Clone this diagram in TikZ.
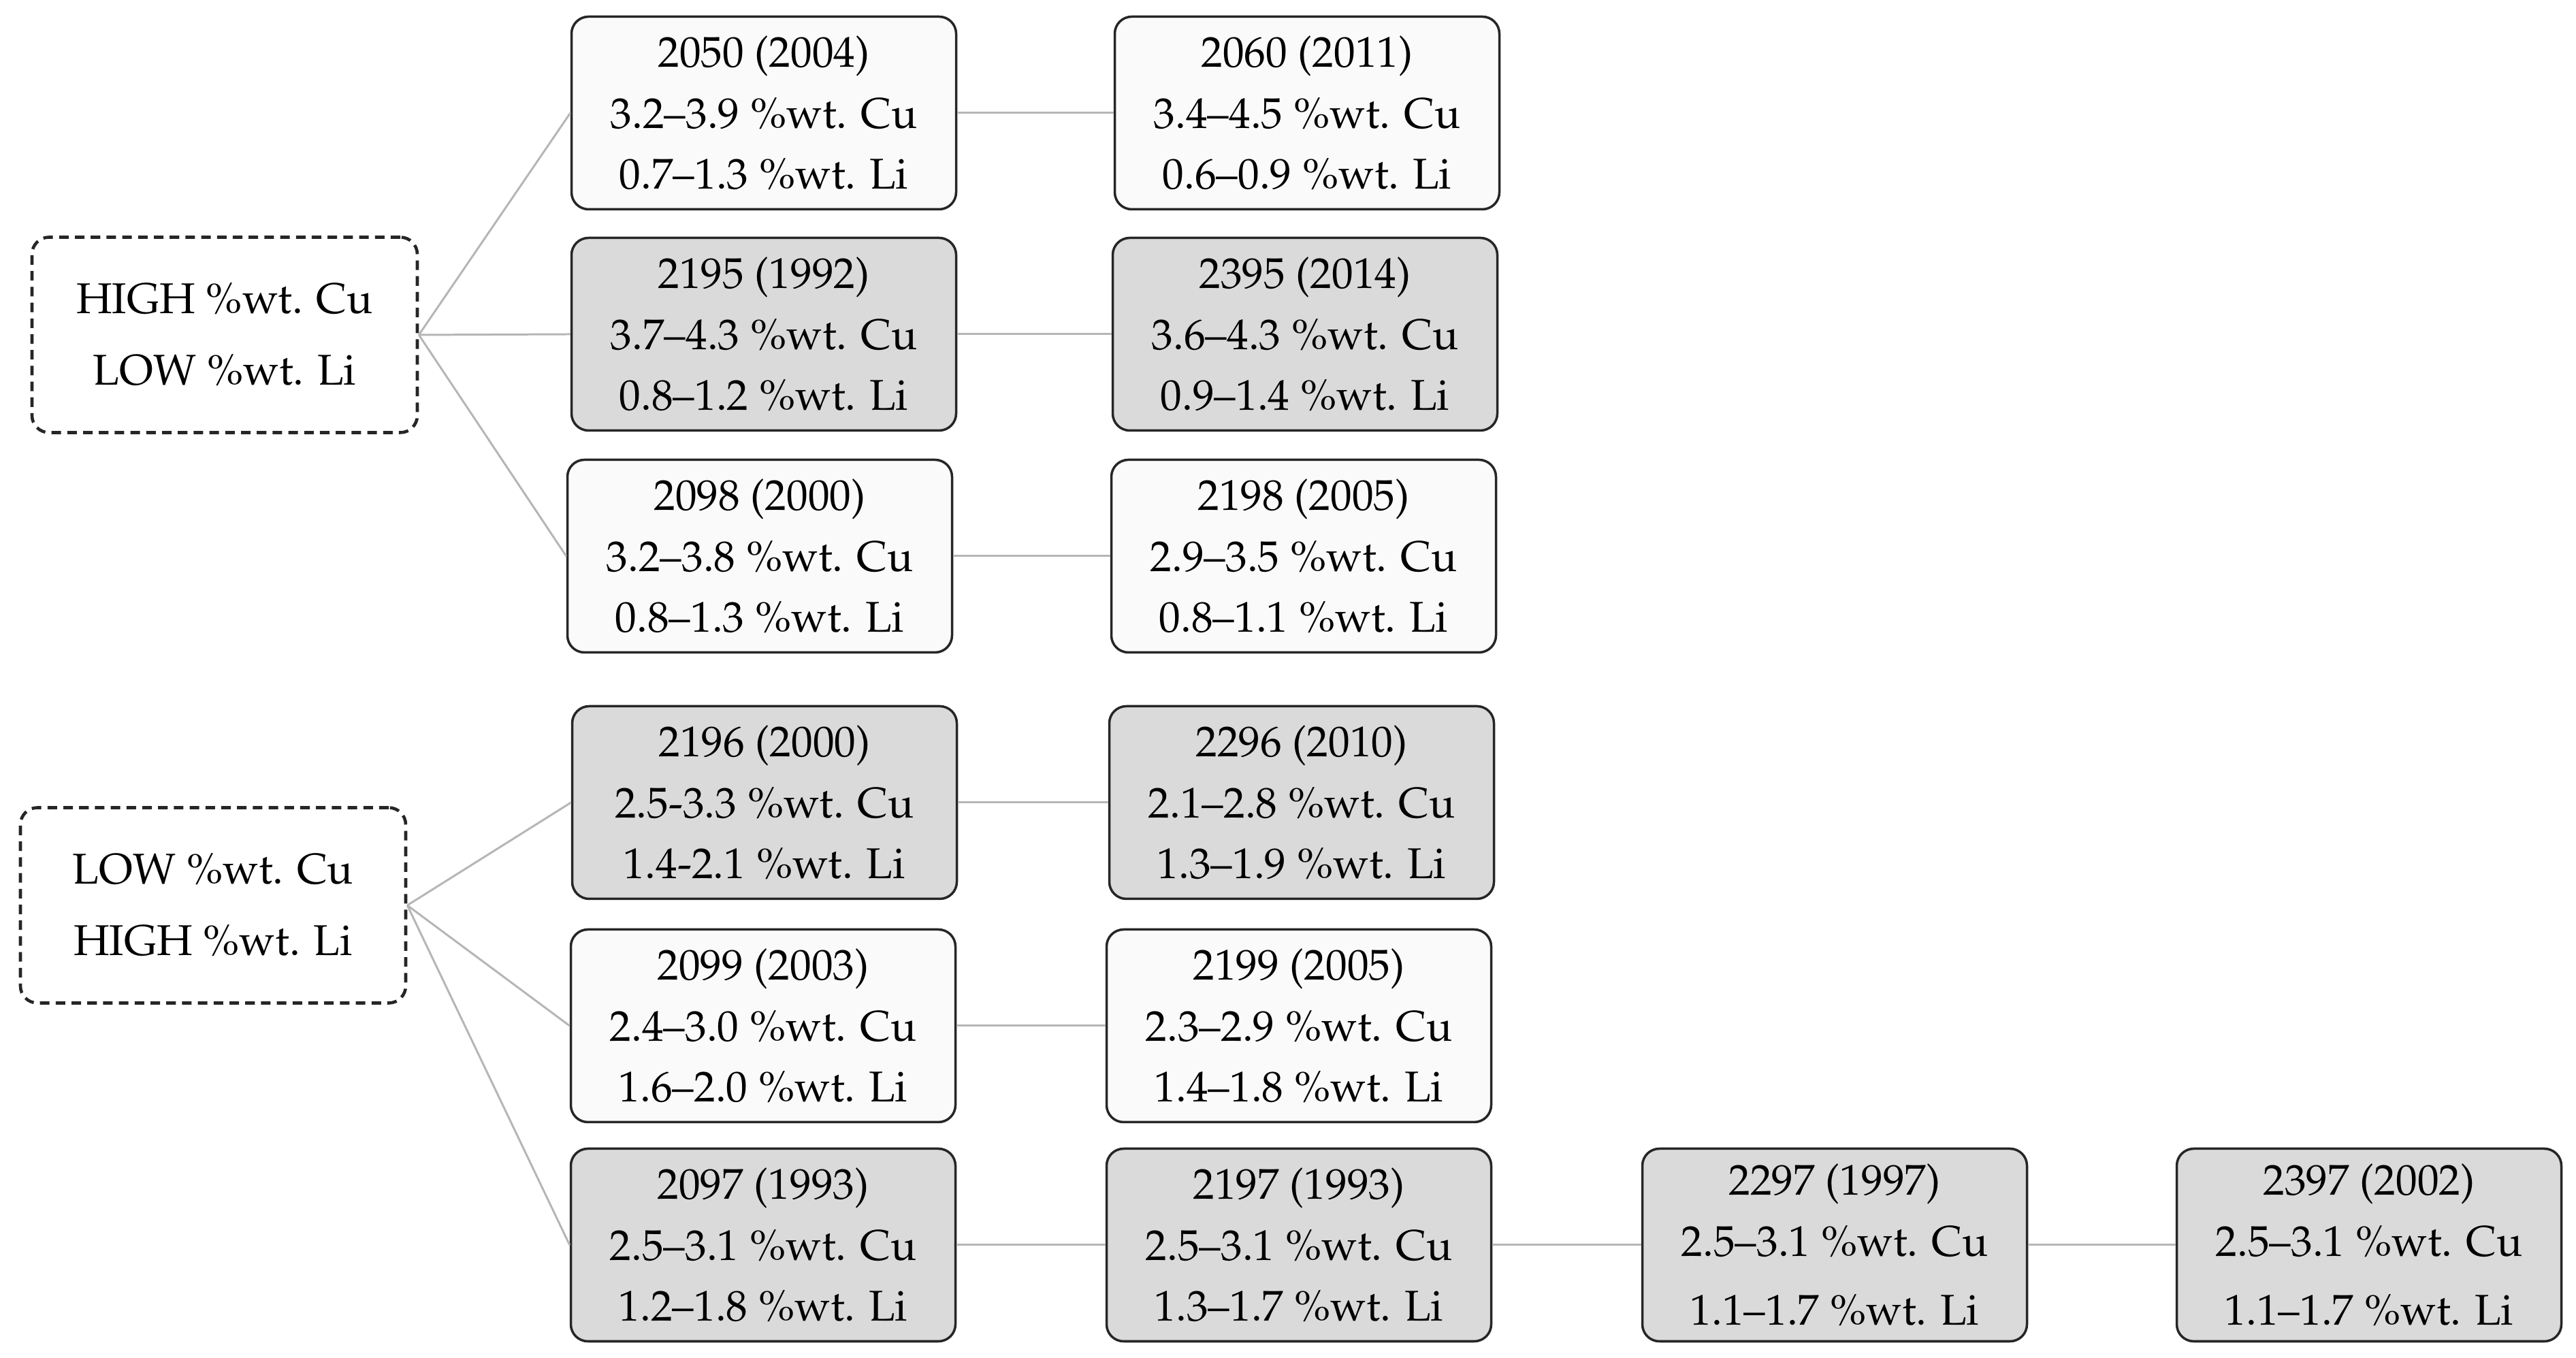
\documentclass[tikz,border=0pt]{standalone}
\usepackage[T1]{fontenc}
\usepackage{mathpazo}
\usetikzlibrary{positioning}
\definecolor{boxgray}{RGB}{218,218,218}
\definecolor{boxwhite}{RGB}{250,250,250}
\definecolor{linkgray}{RGB}{182,182,182}
\tikzset{
	alloy/.style={draw=black!85, line width=1pt, rounded corners=.25cm, minimum width=5.65cm, minimum height=2.83cm, align=center, inner sep=0pt, font=\fontsize{18}{25.5}\selectfont},
	grayalloy/.style={alloy, fill=boxgray},
	whitealloy/.style={alloy, fill=boxwhite},
	family/.style={alloy, line width=1.3pt, dash pattern=on 4pt off 2.6pt, fill=white, minimum width=5.66cm, minimum height=2.87cm, font=\fontsize{18}{30}\selectfont},
	link/.style={draw=linkgray, line width=0.85pt}
}
\begin{document}
\begin{tikzpicture}[line join=round]
	\useasboundingbox (0,0) rectangle (37.84,19.95);
	% families
	\node[family] (hicu) at (3.30,15.03) {HIGH \%wt. Cu\\LOW \%wt. Li};
	\node[family] (locu) at (3.13,6.65) {LOW \%wt. Cu\\HIGH \%wt. Li};
	% high Cu branch
	\node[whitealloy] (a2050) at (11.22,18.29) {2050 (2004)\\3.2--3.9 \%wt. Cu\\0.7--1.3 \%wt. Li};
	\node[whitealloy] (a2060) at (19.20,18.29) {2060 (2011)\\3.4--4.5 \%wt. Cu\\0.6--0.9 \%wt. Li};
	\node[grayalloy] (a2195) at (11.22,15.04) {2195 (1992)\\3.7--4.3 \%wt. Cu\\0.8--1.2 \%wt. Li};
	\node[grayalloy] (a2395) at (19.17,15.04) {2395 (2014)\\3.6--4.3 \%wt. Cu\\0.9--1.4 \%wt. Li};
	\node[whitealloy] (a2098) at (11.16,11.78) {2098 (2000)\\3.2--3.8 \%wt. Cu\\0.8--1.3 \%wt. Li};
	\node[whitealloy] (a2198) at (19.15,11.78) {2198 (2005)\\2.9--3.5 \%wt. Cu\\0.8--1.1 \%wt. Li};
	% low Cu branch
	\node[grayalloy] (a2196) at (11.23,8.16) {2196 (2000)\\2.5-3.3 \%wt. Cu\\1.4-2.1 \%wt. Li};
	\node[grayalloy] (a2296) at (19.12,8.16) {2296 (2010)\\2.1--2.8 \%wt. Cu\\1.3--1.9 \%wt. Li};
	\node[whitealloy] (a2099) at (11.21,4.88) {2099 (2003)\\2.4--3.0 \%wt. Cu\\1.6--2.0 \%wt. Li};
	\node[whitealloy] (a2199) at (19.08,4.88) {2199 (2005)\\2.3--2.9 \%wt. Cu\\1.4--1.8 \%wt. Li};
	\node[grayalloy] (a2097) at (11.21,1.66) {2097 (1993)\\2.5--3.1 \%wt. Cu\\1.2--1.8 \%wt. Li};
	\node[grayalloy] (a2197) at (19.08,1.66) {2197 (1993)\\2.5--3.1 \%wt. Cu\\1.3--1.7 \%wt. Li};
	\node[grayalloy] (a2297) at (26.95,1.66) {2297 (1997)\\2.5--3.1 \%wt. Cu\\[3.5pt]1.1--1.7 \%wt. Li};
	\node[grayalloy] (a2397) at (34.80,1.66) {2397 (2002)\\2.5--3.1 \%wt. Cu\\[3.5pt]1.1--1.7 \%wt. Li};
	% links
	\foreach \n in {a2050,a2195,a2098}{
		\draw[link] (hicu.east)--(\n.west);
	}
	\foreach \n in {a2196,a2099,a2097}{
		\draw[link] (locu.east)--(\n.west);
	}
	\foreach \a/\b in {a2050/a2060,a2195/a2395,a2098/a2198,a2196/a2296,a2099/a2199,a2097/a2197,a2197/a2297,a2297/a2397}{
		\draw[link] (\a.east)--(\b.west);
	}
\end{tikzpicture}
\end{document}
